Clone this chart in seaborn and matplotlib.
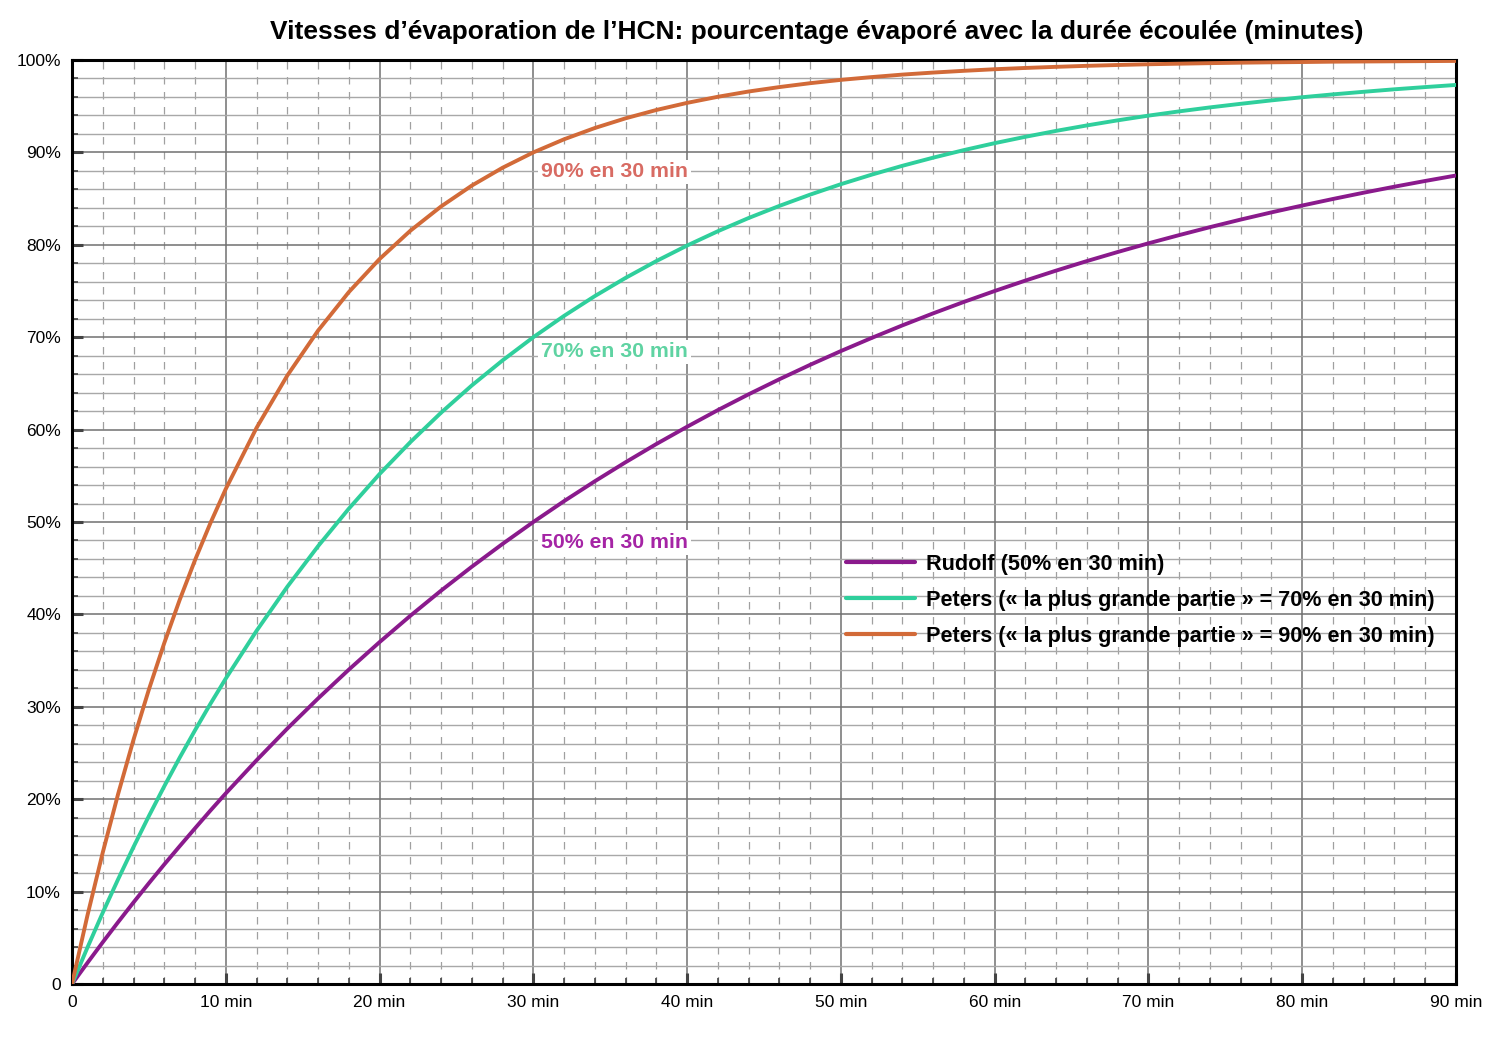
import numpy as np
import pandas as pd
import matplotlib
matplotlib.use("Agg")
import matplotlib.pyplot as plt
import seaborn as sns
from matplotlib.ticker import MultipleLocator, FuncFormatter

# temps (minutes) et pourcentage évaporé
minutes = [0, 1, 2, 3, 4, 5, 6, 7, 8, 9, 10,
           12, 14, 16, 18, 20, 22, 24, 26, 28, 30,
           32, 34, 36, 38, 40, 42, 44, 46, 48, 50,
           52, 54, 56, 58, 60, 62, 64, 66, 68, 70,
           72, 74, 76, 78, 80, 82, 84, 86, 88, 90]
rudolf_50 = [0, 2.28, 4.52, 6.70, 8.83, 10.91, 12.94, 14.91, 16.85, 18.77, 20.63,
             24.21, 27.64, 30.90, 34.02, 37.00, 39.85, 42.57, 45.16, 47.63, 50.00,
             52.26, 54.41, 56.47, 58.44, 60.31, 62.11, 63.82, 65.45, 67.01, 68.50,
             69.92, 71.28, 72.58, 73.82, 75.00, 76.13, 77.21, 78.24, 79.22, 80.16,
             81.05, 81.91, 82.73, 83.51, 84.25, 84.96, 85.64, 86.29, 86.91, 87.50]
peters_70 = [0, 3.93, 7.72, 11.34, 14.83, 18.18, 21.40, 24.49, 27.46, 30.32, 33.06,
             38.22, 42.99, 47.38, 51.44, 55.19, 58.64, 61.83, 64.78, 67.49, 70.00,
             72.31, 74.45, 76.42, 78.24, 79.92, 81.47, 82.90, 84.21, 85.43, 86.56,
             87.59, 88.55, 89.43, 90.25, 91.00, 91.69, 92.33, 92.92, 93.47, 93.98,
             94.44, 94.87, 95.26, 95.63, 95.97, 96.28, 96.56, 96.83, 97.07, 97.30]
peters_90 = [0, 7.39, 14.23, 20.57, 26.44, 31.87, 36.90, 41.56, 45.88, 49.88, 53.58,
             60.19, 65.85, 70.71, 74.88, 78.46, 81.52, 84.15, 86.41, 88.34, 90.00,
             91.42, 92.64, 93.69, 94.59, 95.36, 96.02, 96.59, 97.07, 97.49, 97.85,
             98.15, 98.42, 98.64, 98.83, 99.00, 99.14, 99.26, 99.37, 99.46, 99.54,
             99.60, 99.66, 99.71, 99.75, 99.78, 99.82, 99.84, 99.86, 99.88, 99.90]

series_labels = ["Rudolf (50% en 30 min)",
                 "Peters (« la plus grande partie » = 70% en 30 min)",
                 "Peters (« la plus grande partie » = 90% en 30 min)"]
line_colors = ["#8a1a8c", "#2fcf9c", "#d26a38"]
note_texts = ["50% en 30 min", "70% en 30 min", "90% en 30 min"]
note_colors = ["#a524a5", "#5fd3a2", "#d86b63"]
note_y = [47.8, 68.4, 87.9]

df = pd.DataFrame({"minutes": minutes * 3,
                   "pct": rudolf_50 + peters_70 + peters_90,
                   "serie": [series_labels[0]] * len(minutes) + [series_labels[1]] * len(minutes)
                   + [series_labels[2]] * len(minutes)})

sns.set_style("white")
plt.rcParams["font.family"] = ["Liberation Sans", "DejaVu Sans"]
plt.rcParams["text.color"] = "black"
plt.rcParams["xtick.color"] = "black"
plt.rcParams["ytick.color"] = "black"

fig = plt.figure(figsize=(14.93, 10.45), dpi=100)
ax = fig.add_axes([72 / 1493, 1 - 984 / 1045, (1456 - 72) / 1493, (984 - 60) / 1045])

sns.lineplot(data=df, x="minutes", y="pct", hue="serie", palette=line_colors,
             hue_order=series_labels, linewidth=2.8, ax=ax, zorder=3)

ax.set_xlim(0, 90)
ax.set_ylim(0, 100)
ax.xaxis.set_major_locator(MultipleLocator(10))
ax.xaxis.set_minor_locator(MultipleLocator(2))
ax.yaxis.set_major_locator(MultipleLocator(10))
ax.yaxis.set_minor_locator(MultipleLocator(2))
ax.xaxis.set_major_formatter(FuncFormatter(lambda v, p: "0" if v == 0 else f"{v:.0f} min"))
ax.yaxis.set_major_formatter(FuncFormatter(lambda v, p: "0" if v == 0 else f"{v:.0f}%"))

ax.grid(which="major", color="#707070", linewidth=1.1, zorder=0)
ax.grid(which="minor", axis="y", color="#a8a8a8", linewidth=1.0, zorder=0)
ax.grid(which="minor", axis="x", color="#a0a0a0", linewidth=0.9, linestyle=(0, (6, 6)), zorder=0)
ax.set_axisbelow(True)

ax.tick_params(which="major", direction="in", length=8, width=2.2, color="#444444",
               labelsize=12.5, labelcolor="black", pad=8, bottom=True, left=True)
ax.tick_params(which="minor", direction="in", length=4, width=1.2, color="#444444",
               bottom=True, left=True)
for s in ax.spines.values():
    s.set_visible(True)
    s.set_color("black")
    s.set_linewidth(2.2)

ax.set_xlabel("")
ax.set_ylabel("")
fig.suptitle("Vitesses d’évaporation de l’HCN: pourcentage évaporé avec la durée écoulée (minutes)",
             x=0.547, y=0.981, fontsize=19, fontweight="bold", color="black")

for txt, col, yy in zip(note_texts, note_colors, note_y):
    ax.text(30.5, yy, txt, color=col, fontsize=15.3, fontweight="bold", va="center", ha="left",
            zorder=4, bbox=dict(facecolor="white", edgecolor="none", pad=2))

leg = ax.legend(loc="upper left", bbox_to_anchor=(0.545, 0.487), frameon=False,
                prop={"weight": "bold", "size": 15.6}, handlelength=3.2, labelspacing=0.7,
                handletextpad=0.5)
for t in leg.get_texts():
    t.set_color("black")
for h in leg.get_lines():
    h.set_linewidth(3)

fig.savefig("out.png", dpi=100)
